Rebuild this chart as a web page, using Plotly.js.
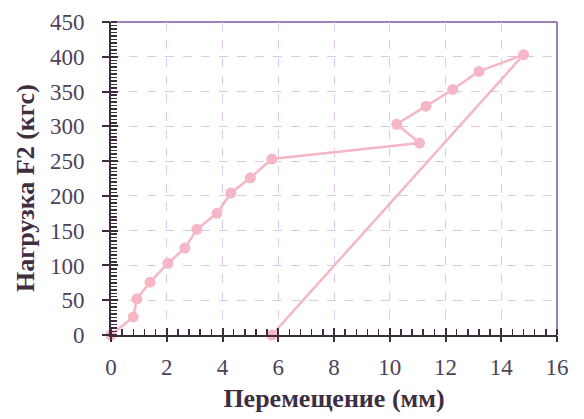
<!DOCTYPE html>
<html>
<head>
<meta charset="utf-8">
<script src="https://cdn.plot.ly/plotly-3.0.1.min.js"></script>
<style>html,body{margin:0;padding:0;background:#fff;}#chart{width:584px;height:419px;}</style>
</head>
<body>
<div id="chart"></div>
<script>
// Displacement (mm) and load F2 (kgf)
const displacement = [0, 0.8, 0.93, 1.4, 2.04, 2.65, 3.08, 3.8, 4.3, 5.0, 5.77, 11.07, 10.25, 11.3, 12.26, 13.2, 14.8, 5.77];
const load = [0, 26, 52, 76, 103, 125, 152, 175, 204, 226, 253, 276, 303, 329, 353, 379, 403, 0];
const xTitle = 'Перемещение (мм)';
const yTitle = 'Нагрузка F2 (кгс)';

const pink = '#f5b6c6';
const axisCol = '#3d2c3e';
const textCol = '#4d4258';
const titleCol = '#3e2e40';
const gridCol = '#d9c9ee';
const serif = '"Liberation Serif", "Times New Roman", serif';
const clear = 'rgba(0,0,0,0)';

const trace = {
  x: displacement, y: load, type: 'scatter', mode: 'lines+markers',
  line: {color: pink, width: 2.5},
  marker: {color: pink, size: 11},
  cliponaxis: false,
  showlegend: false
};

const layout = {
  width: 584, height: 419,
  margin: {l: 111, r: 27, t: 22, b: 84},
  paper_bgcolor: '#ffffff', plot_bgcolor: '#ffffff',
  font: {family: serif, color: textCol, size: 23},
  xaxis: {
    range: [0, 16], dtick: 2, tick0: 0,
    showline: true, linecolor: axisCol, linewidth: 2,
    ticks: 'outside', ticklen: 10, tickwidth: 2, tickcolor: clear,
    showgrid: true, gridcolor: gridCol, griddash: 'dash', gridwidth: 1,
    zeroline: false,
    minor: {dtick: 0.4, ticks: 'inside', ticklen: 6, tickwidth: 1.5, tickcolor: axisCol, showgrid: false},
    tickfont: {family: serif, size: 23, color: textCol},
    title: {text: xTitle, font: {family: serif, size: 26, color: titleCol, weight: 'bold'}, standoff: 10}
  },
  yaxis: {
    range: [0, 450], dtick: 50, tick0: 0,
    showline: true, linecolor: axisCol, linewidth: 2,
    ticks: 'outside', ticklen: 20, tickwidth: 2, tickcolor: clear,
    showgrid: true, gridcolor: gridCol, griddash: 'dash', gridwidth: 1,
    zeroline: false,
    minor: {dtick: 5, ticks: 'inside', ticklen: 6, tickwidth: 1.5, tickcolor: axisCol, showgrid: false},
    tickfont: {family: serif, size: 23, color: textCol}
  },
  xaxis2: {
    overlaying: 'x', anchor: 'y', range: [0, 16], dtick: 2, tick0: 0,
    ticks: 'inside', ticklen: 7, tickwidth: 2, tickcolor: axisCol,
    showticklabels: false, showgrid: false, zeroline: false, showline: false
  },
  yaxis2: {
    overlaying: 'y', anchor: 'x', side: 'left', range: [0, 450], dtick: 50, tick0: 0,
    ticks: 'inside', ticklen: 7, tickwidth: 2, tickcolor: axisCol,
    showticklabels: false, showgrid: false, zeroline: false, showline: false
  },
  xaxis3: {
    overlaying: 'x', anchor: 'y', range: [0, 16], dtick: 2, tick0: 0,
    ticks: 'outside', ticklen: 6, tickwidth: 2, tickcolor: axisCol,
    showticklabels: false, showgrid: false, zeroline: false, showline: false
  },
  yaxis3: {
    overlaying: 'y', anchor: 'x', side: 'left', range: [0, 450], dtick: 50, tick0: 0,
    ticks: 'outside', ticklen: 8, tickwidth: 2, tickcolor: axisCol,
    showticklabels: false, showgrid: false, zeroline: false, showline: false
  },
  annotations: [
    {text: yTitle, textangle: -90, xref: 'paper', yref: 'paper', x: 0, y: 0.47,
     xanchor: 'center', yanchor: 'middle', xshift: -85, showarrow: false,
     font: {family: serif, size: 26, color: titleCol, weight: 'bold'}}
  ],
  shapes: [
    {type: 'line', xref: 'paper', yref: 'paper', x0: 0, x1: 1, y0: 1, y1: 1, line: {color: '#9c80b8', width: 2}, layer: 'below'},
    {type: 'line', xref: 'paper', yref: 'paper', x0: 1, x1: 1, y0: 0, y1: 1, line: {color: '#9c80b8', width: 2}, layer: 'below'}
  ]
};

const dummy2 = {x: [0], y: [0], xaxis: 'x2', yaxis: 'y2', mode: 'markers', marker: {opacity: 0}, showlegend: false, hoverinfo: 'skip'};
const dummy3 = {x: [0], y: [0], xaxis: 'x3', yaxis: 'y3', mode: 'markers', marker: {opacity: 0}, showlegend: false, hoverinfo: 'skip'};

Plotly.newPlot('chart', [trace, dummy2, dummy3], layout, {staticPlot: true, displayModeBar: false});
</script>
</body>
</html>
